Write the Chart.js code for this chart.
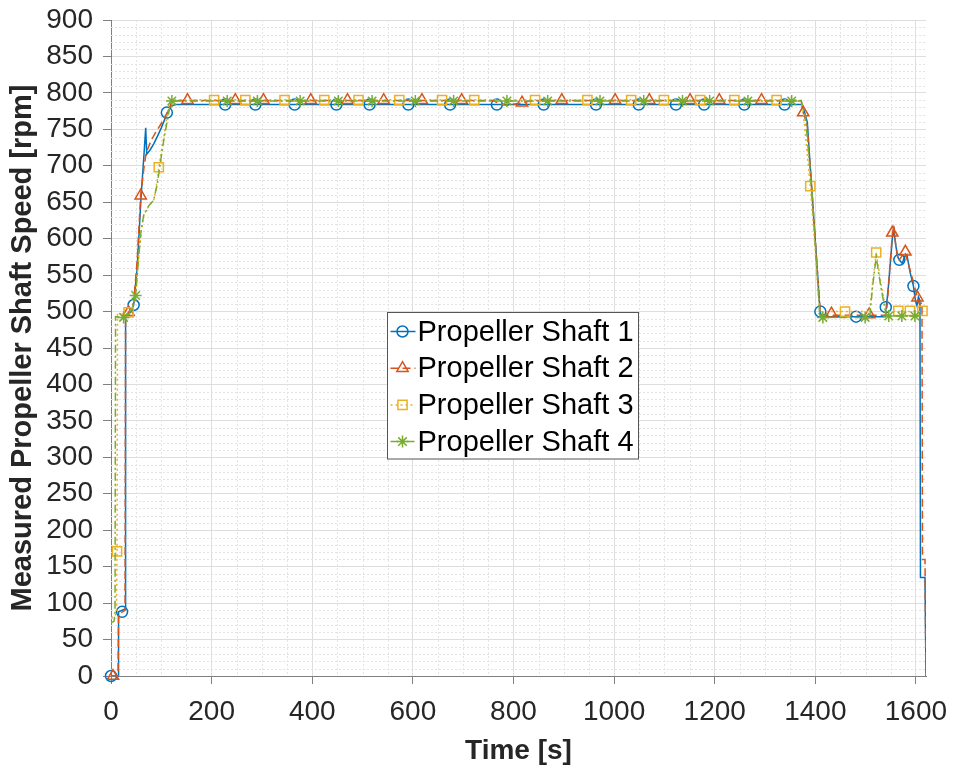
<!DOCTYPE html>
<html>
<head>
<meta charset="utf-8">
<title>Measured Propeller Shaft Speed</title>
<script src="https://cdn.jsdelivr.net/npm/chart.js@4.4.1/dist/chart.umd.min.js"></script>
<style>
  body { margin: 0; background: #fff; }
</style>
</head>
<body>
<canvas id="speedChart" width="953" height="768"></canvas>
<script>
// time [s], speed [rpm]
const shaft1 = [[0,0],[14,0],[15,88],[28,92],[29,492],[40,500],[45,509],[52,560],[60,660],[66,720],[69,752],[71,716],[78,722],[85,730],[92,740],[100,752],[112,773],[120,782],[128,784],
  [1372,784],[1378,775],[1384,760],[1410,495],[1415,493],[1539,493],[1541,505],[1546,540],[1553,600],[1556,613],[1560,590],[1564,575],[1568,570],[1573,566],[1577,575],[1582,578],
  [1588,555],[1595,535],[1599,515],[1602,508],[1605,520],[1608,515],[1609,135],[1618,135],[1620,0]];
const shaft2 = [[0,0],[14,0],[15,85],[28,90],[29,494],[35,499],[45,512],[52,570],[59,659],[66,700],[70,718],[80,735],[89,746],[100,758],[112,773],[120,786],[128,789.5],
  [760,789.5],[775,784],[790,783],[805,785],[820,786.5],[835,789.5],[1372,789.5],[1376,773],[1384,755],[1410,497],[1418,495],[1540,495],[1543,510],[1548,560],[1553,605],
  [1556,618],[1560,590],[1565,569],[1570,574],[1578,582],[1583,570],[1590,553],[1597,535],[1603,519],[1607,510],[1612,512],[1613,160],[1618,160],[1620,0]];
const shaft3 = [[0,80],[8,82],[11,90],[12,171],[13,496],[32,497],[35,499],[42,505],[49,523],[55,575],[60,610],[65,632],[75,645],[85,653],[92,680],[95,698],[105,740],[115,784],[122,790.5],
  [1368,790.5],[1375,780],[1390,672],[1409,499],[1415,500],[1508,500],[1514,540],[1521,581],[1530,540],[1541,500],[1615,500]];
const shaft4 = [[0,73],[6,75],[8,88],[9,493],[25,492],[35,496],[42,505],[49,522],[55,575],[60,612],[65,632],[75,645],[85,653],[92,675],[99,708],[106,740],[112,762],[118,785],[122,789],
  [1372,789],[1380,770],[1395,650],[1409,492],[1508,492],[1514,535],[1521,575],[1530,535],[1541,494],[1610,494]];

// marker positions
const shaft1Marks = [[0,0],[22,88],[45,509],[111,773],[227,784],[287,784],[365,784],[448,784],[514,784],[591,784],[674,784],[767,784],[860,784],[964,784],[1049,784],
  [1123,784],[1179,784],[1259,784],[1339,784],[1410,500],[1481,493],[1540,506],[1567,571],[1595,535]];
const shaft2Marks = [[4,0],[35,499],[59,659],[152,790],[247,790],[303,790],[397,790],[470,790],[542,790],[618,790],[697,790],[817,786.5],[896,790],[1002,790],[1070,790],
  [1151,790],[1209,790],[1293,790],[1376,773],[1432,497],[1507,496],[1553,608],[1579,582],[1603,519]];
const shaft3Marks = [[12,171],[35,499],[95,698],[205,790],[267,790],[345,790],[424,790],[492,790],[573,790],[658,790],[722,790],[843,790],[947,790],[1034,790],[1099,790],
  [1171,790],[1239,790],[1323,790],[1390,672],[1459,500],[1521,581],[1565,501],[1588,501],[1613,501]];
const shaft4Marks = [[25,492],[49,522],[121,789],[231,789],[291,789],[376,789],[452,789],[519,789],[605,789],[681,789],[787,789],[868,789],[972,789],[1059,789],[1136,789],
  [1190,789],[1266,789],[1353,789],[1415,492],[1499,492],[1546,494],[1572,494],[1598,494]];

const labels = ['Propeller Shaft 1', 'Propeller Shaft 2', 'Propeller Shaft 3', 'Propeller Shaft 4'];
const xTicks = [0, 200, 400, 600, 800, 1000, 1200, 1400, 1600];
const yTicks = [0, 50, 100, 150, 200, 250, 300, 350, 400, 450, 500, 550, 600, 650, 700, 750, 800, 850, 900];

const FONT = '"Liberation Sans", Arial, Helvetica, sans-serif';
const series = [
  { label: labels[0], line: shaft1, marks: shaft1Marks, color: '#0072BD', dash: [], style: 'circle', r: 5.5 },
  { label: labels[1], line: shaft2, marks: shaft2Marks, color: '#D95319', dash: [8, 4], style: 'triangle', r: 6.5 },
  { label: labels[2], line: shaft3, marks: shaft3Marks, color: '#EDB120', dash: [2, 3], style: 'rect', r: 6.5 },
  { label: labels[3], line: shaft4, marks: shaft4Marks, color: '#77AC30', dash: [8, 3, 2, 3], style: 'star', r: 6 }
];

const toXY = arr => arr.map(([x, y]) => ({ x, y }));

const datasets = [];
series.forEach((s, i) => {
    datasets.push({
        label: s.label,
        data: toXY(s.line),
        showLine: true,
        borderColor: s.color,
        borderWidth: 1.5,
        borderDash: s.dash,
        pointRadius: 0,
        order: 8 - 2 * i
    });
    datasets.push({
        label: s.label + ' markers',
        data: toXY(s.marks),
        showLine: false,
        pointStyle: s.style,
        pointRadius: s.r,
        pointBorderColor: s.color,
        pointBackgroundColor: 'rgba(0,0,0,0)',
        pointBorderWidth: 1.5,
        clip: false,
        order: 7 - 2 * i
    });
});

// dotted minor grid like MATLAB's "grid minor"
const minorGrid = {
    id: 'minorGrid',
    beforeDatasetsDraw(chart) {
        const { ctx, chartArea: a, scales: { x, y } } = chart;
        ctx.save();
        ctx.strokeStyle = '#e3e3e3';
        ctx.lineWidth = 1;
        ctx.setLineDash([2, 2]);
        ctx.beginPath();
        for (let t = 50; t <= x.max; t += 50) {
            if (t % 200 === 0) continue;
            const px = Math.round(x.getPixelForValue(t)) + 0.5;
            ctx.moveTo(px, a.top);
            ctx.lineTo(px, a.bottom);
        }
        for (let v = 10; v < y.max; v += 10) {
            if (v % 50 === 0) continue;
            const py = Math.round(y.getPixelForValue(v)) + 0.5;
            ctx.moveTo(a.left, py);
            ctx.lineTo(a.right, py);
        }
        ctx.stroke();
        ctx.restore();
    }
};

// boxed legend inside the axes
const boxLegend = {
    id: 'boxLegend',
    afterDraw(chart) {
        const { ctx } = chart;
        const left = 387.5, top = 312.5, w = 251, h = 146.5, rowH = 36.7;
        ctx.save();
        ctx.fillStyle = '#fff';
        ctx.fillRect(left, top, w, h);
        ctx.strokeStyle = '#555';
        ctx.lineWidth = 1;
        ctx.strokeRect(left, top, w, h);
        series.forEach((s, i) => {
            const cy = top + 19 + i * rowH;
            ctx.strokeStyle = s.color;
            ctx.lineWidth = 1.5;
            ctx.setLineDash(s.dash);
            ctx.beginPath();
            ctx.moveTo(left + 3, cy);
            ctx.lineTo(left + 28, cy);
            ctx.stroke();
            ctx.setLineDash([]);
            ctx.fillStyle = 'rgba(0,0,0,0)';
            ctx.strokeStyle = s.color;
            Chart.helpers.drawPoint(ctx, {
                pointStyle: s.style,
                radius: s.r,
                borderWidth: 1.5
            }, left + 15, cy);
            ctx.fillStyle = '#000';
            ctx.font = '29px ' + FONT;
            ctx.textBaseline = 'middle';
            ctx.fillText(s.label, left + 30, cy + 1);
        });
        ctx.restore();
    }
};

const ctx = document.getElementById('speedChart').getContext('2d');
new Chart(ctx, {
    type: 'scatter',
    data: { datasets },
    options: {
        responsive: false,
        animation: false,
        devicePixelRatio: 1,
        layout: { padding: { left: 0, right: 27, top: 20, bottom: 0 }, autoPadding: false },
        plugins: {
            legend: { display: false },
            tooltip: { enabled: false }
        },
        scales: {
            x: {
                type: 'linear',
                min: 0,
                max: 1620,
                afterFit: scale => {
                    scale.height = 92;
                    scale.paddingLeft = 0;
                    scale.paddingRight = 0;
                },
                afterBuildTicks: scale => { scale.ticks = xTicks.map(v => ({ value: v })); },
                ticks: {
                    autoSkip: false,
                    maxRotation: 0,
                    padding: 11,
                    color: '#262626',
                    font: { family: FONT, size: 28 },
                    callback: v => String(v)
                },
                grid: { color: '#dedede', tickColor: '#808080', tickLength: 8 },
                border: { color: '#808080', width: 1 },
                title: {
                    display: true,
                    text: 'Time [s]',
                    color: '#262626',
                    font: { family: FONT, size: 28, weight: 'bold' },
                    padding: { top: 0, bottom: 0 }
                }
            },
            y: {
                min: 0,
                max: 900,
                afterFit: scale => {
                    scale.width = 111;
                    scale.paddingTop = 0;
                    scale.paddingBottom = 0;
                },
                afterBuildTicks: scale => { scale.ticks = yTicks.map(v => ({ value: v })); },
                ticks: {
                    autoSkip: false,
                    padding: 10,
                    color: '#262626',
                    font: { family: FONT, size: 28 },
                    callback: v => String(v)
                },
                grid: { color: '#dedede', tickColor: '#808080', tickLength: 8 },
                border: { color: '#808080', width: 1 },
                title: {
                    display: true,
                    text: 'Measured Propeller Shaft Speed [rpm]',
                    color: '#262626',
                    font: { family: FONT, size: 29, weight: 'bold' },
                    padding: { top: 6, bottom: 0 }
                }
            }
        }
    },
    plugins: [minorGrid, boxLegend]
});
</script>
</body>
</html>
